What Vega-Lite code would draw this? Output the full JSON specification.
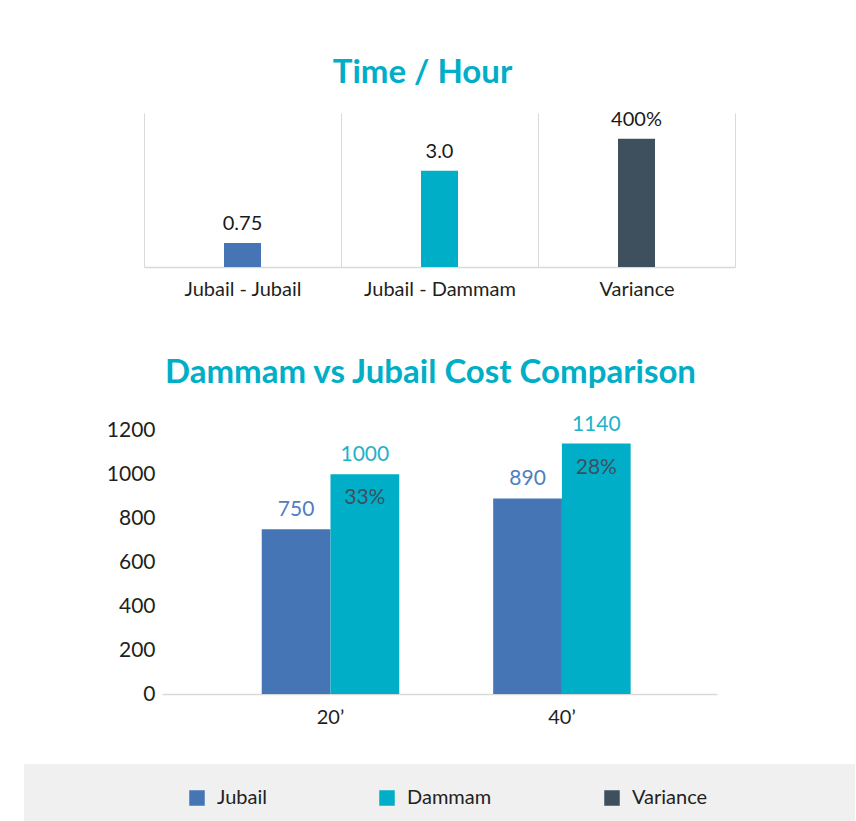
{
  "$schema": "https://vega.github.io/schema/vega-lite/v6.json",
  "padding": {"left": 24, "top": 56, "right": 1, "bottom": 0},
  "background": "white",
  "config": {
    "view": {"stroke": null},
    "font": "Lato",
    "axis": {"labelFont": "Lato", "labelColor": "#1f1f1f", "ticks": false, "title": null}
  },
  "datasets": {
    "time": [
      {"route": "Jubail - Jubail", "series": "Jubail", "value": 0.75, "label": "0.75"},
      {"route": "Jubail - Dammam", "series": "Dammam", "value": 3.0, "label": "3.0"},
      {"route": "Variance", "series": "Variance", "value": 4.0, "label": "400%"}
    ],
    "cost": [
      {"size": "20’", "series": "Jubail", "value": 750, "label": "750", "pct": null},
      {"size": "20’", "series": "Dammam", "value": 1000, "label": "1000", "pct": "33%"},
      {"size": "40’", "series": "Jubail", "value": 890, "label": "890", "pct": null},
      {"size": "40’", "series": "Dammam", "value": 1140, "label": "1140", "pct": "28%"}
    ]
  },
  "bounds": "flush",
  "center": true,
  "spacing": 70,
  "vconcat": [
    {
      "width": 591,
      "height": 154,
      "title": {"text": "Time / Hour", "fontSize": 33, "fontWeight": "bold", "color": "#00AEC7", "frame": "group", "anchor": "middle", "baseline": "alphabetic", "dx": -17, "offset": -6},
      "data": {"name": "time"},
      "encoding": {
        "x": {"field": "route", "type": "nominal", "sort": null,
          "scale": {"paddingInner": 0, "paddingOuter": 0},
          "axis": {"labelAngle": 0, "labelFontSize": 20, "labelPadding": 12, "grid": true, "tickBand": "extent", "gridColor": "#D9D9D9", "domainColor": "#D9D9D9", "domainWidth": 1.5}},
        "y": {"field": "value", "type": "quantitative", "scale": {"domain": [0, 4.8]}, "axis": null}
      },
      "layer": [
        {
          "mark": {"type": "bar", "size": 37},
          "encoding": {
            "color": {"field": "series", "type": "nominal",
              "scale": {"domain": ["Jubail", "Dammam", "Variance"], "range": ["#4575B5", "#00AEC7", "#3E4F5E"]},
              "legend": {"orient": "none", "legendX": 163, "legendY": 675, "direction": "horizontal", "title": null, "symbolType": "square", "symbolSize": 240, "symbolStrokeWidth": 0, "labelFontSize": 20, "labelColor": "#222222", "labelOffset": 10, "columnPadding": 110, "padding": 0}}
          }
        },
        {
          "mark": {"type": "text", "baseline": "alphabetic", "dy": -13, "fontSize": 20, "color": "#1a1a1a"},
          "encoding": {"text": {"field": "label"}}
        }
      ]
    },
    {
      "width": 555,
      "height": 357,
      "title": {"text": "Dammam vs Jubail Cost Comparison", "fontSize": 33, "fontWeight": "bold", "color": "#00AEC7", "frame": "group", "anchor": "middle", "baseline": "alphabetic", "dx": -9, "offset": -79},
      "data": {"name": "cost"},
      "encoding": {
        "x": {"field": "size", "type": "nominal", "sort": null,
          "scale": {"paddingInner": 0.406, "paddingOuter": 0.402, "align": 0.536},
          "axis": {"labelAngle": 0, "labelFontSize": 20, "labelPadding": 13, "grid": false, "domainColor": "#D9D9D9", "domainWidth": 1.5}},
        "xOffset": {"field": "series", "type": "nominal", "sort": ["Jubail", "Dammam"], "scale": {"domain": ["Jubail", "Dammam"], "paddingInner": 0, "paddingOuter": 0}},
        "y": {"field": "value", "type": "quantitative", "scale": {"domain": [0, 1625], "nice": false},
          "axis": {"values": [0, 200, 400, 600, 800, 1000, 1200], "format": "d", "labelFontSize": 21, "labelPadding": 7, "domain": false, "grid": false}}
      },
      "layer": [
        {
          "mark": {"type": "bar"},
          "encoding": {
            "color": {"field": "series", "type": "nominal",
              "scale": {"domain": ["Jubail", "Dammam", "Variance"], "range": ["#4575B5", "#00AEC7", "#3E4F5E"]},
              "legend": {"orient": "none", "legendX": 163, "legendY": 675, "direction": "horizontal", "title": null, "symbolType": "square", "symbolSize": 240, "symbolStrokeWidth": 0, "labelFontSize": 20, "labelColor": "#222222", "labelOffset": 10, "columnPadding": 110, "padding": 0}}
          }
        },
        {
          "transform": [{"filter": "datum.series === 'Jubail'"}],
          "mark": {"type": "text", "baseline": "alphabetic", "dy": -13, "fontSize": 21, "color": "#4F7EC0"},
          "encoding": {"text": {"field": "label"}}
        },
        {
          "transform": [{"filter": "datum.series === 'Dammam'"}],
          "mark": {"type": "text", "baseline": "alphabetic", "dy": -13, "fontSize": 21, "color": "#1AB3CA"},
          "encoding": {"text": {"field": "label"}}
        },
        {
          "transform": [{"filter": "datum.pct != null"}],
          "mark": {"type": "text", "baseline": "middle", "dy": 24, "fontSize": 21, "color": "#3E4F5E"},
          "encoding": {"text": {"field": "pct"}}
        }
      ]
    },
    {
      "width": 831,
      "height": 57,
      "view": {"fill": "#F0F0F0", "stroke": null},
      "data": {"values": [{"band": "legend"}]},
      "mark": {"type": "rect", "color": "#F0F0F0"},
      "encoding": {}
    }
  ]
}
